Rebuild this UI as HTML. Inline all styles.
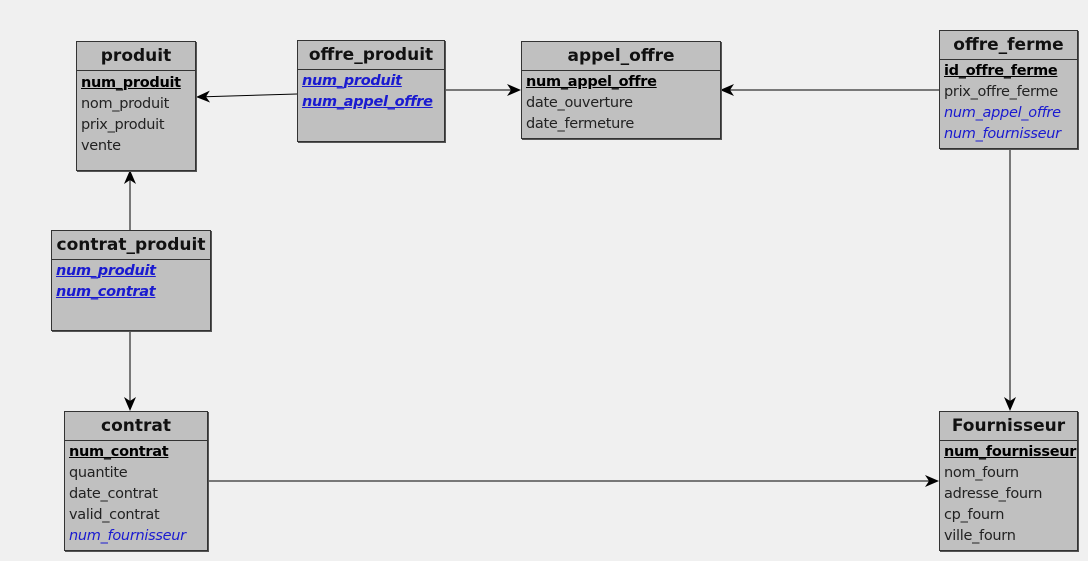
<!DOCTYPE html>
<html><head><style>
body{margin:0;width:1088px;height:561px;background:#f0f0f0;position:relative;overflow:hidden;font-family:"DejaVu Sans","Liberation Sans",sans-serif;}
.b{position:absolute;background:#c0c0c0;border:1px solid #333;box-sizing:border-box;box-shadow:1px 1px 0 #555;}
.h{height:28px;border-bottom:1px solid #333;text-align:center;font-weight:bold;font-size:17px;line-height:28px;color:#111;}
.r{font-size:14.5px;line-height:21px;padding-left:4px;color:#222;white-space:nowrap;letter-spacing:-0.3px}
.pk{font-weight:bold;text-decoration:underline;color:#000}
.fk{font-style:italic;color:#1a1ad0}
.pf{font-style:italic;font-weight:bold;text-decoration:underline;color:#1a1ad0}
svg{position:absolute;left:0;top:0}
</style></head><body>
<svg width="1088" height="561">
<defs><marker id="a" markerWidth="14" markerHeight="12" refX="13" refY="6" orient="auto" markerUnits="userSpaceOnUse"><path d="M0,0 L14,6 L0,12 L4,6z" fill="#000"/></marker></defs>
<g stroke="#000" stroke-width="1" fill="none">
<line x1="297" y1="94" x2="197" y2="97" marker-end="url(#a)"/>
<line x1="444" y1="90" x2="520" y2="90" marker-end="url(#a)"/>
<line x1="939" y1="90" x2="721" y2="90" marker-end="url(#a)"/>
<line x1="130" y1="230" x2="130" y2="171" marker-end="url(#a)"/>
<line x1="130" y1="331" x2="130" y2="410" marker-end="url(#a)"/>
<line x1="1010" y1="148" x2="1010" y2="410" marker-end="url(#a)"/>
<line x1="207" y1="481" x2="938" y2="481" marker-end="url(#a)"/>
</g></svg>
<div class="b" style="left:76px;top:41px;width:120px;height:130px"><div class="h">produit</div><div style="padding-top:2px"><div class="r pk">num_produit</div><div class="r">nom_produit</div><div class="r">prix_produit</div><div class="r">vente</div></div></div>
<div class="b" style="left:297px;top:40px;width:148px;height:102px"><div class="h">offre_produit</div><div style="padding-top:1px"><div class="r pf">num_produit</div><div class="r pf">num_appel_offre</div></div></div>
<div class="b" style="left:521px;top:41px;width:200px;height:98px"><div class="h">appel_offre</div><div style="padding-top:1px"><div class="r pk">num_appel_offre</div><div class="r">date_ouverture</div><div class="r">date_fermeture</div></div></div>
<div class="b" style="left:939px;top:30px;width:139px;height:119px"><div class="h">offre_ferme</div><div style="padding-top:1px"><div class="r pk">id_offre_ferme</div><div class="r">prix_offre_ferme</div><div class="r fk">num_appel_offre</div><div class="r fk">num_fournisseur</div></div></div>
<div class="b" style="left:51px;top:230px;width:160px;height:101px"><div class="h">contrat_produit</div><div style="padding-top:1px"><div class="r pf">num_produit</div><div class="r pf">num_contrat</div></div></div>
<div class="b" style="left:64px;top:411px;width:144px;height:140px"><div class="h">contrat</div><div style="padding-top:1px"><div class="r pk">num_contrat</div><div class="r">quantite</div><div class="r">date_contrat</div><div class="r">valid_contrat</div><div class="r fk">num_fournisseur</div></div></div>
<div class="b" style="left:939px;top:411px;width:139px;height:140px"><div class="h">Fournisseur</div><div style="padding-top:1px"><div class="r pk">num_fournisseur</div><div class="r">nom_fourn</div><div class="r">adresse_fourn</div><div class="r">cp_fourn</div><div class="r">ville_fourn</div></div></div>
</body></html>
